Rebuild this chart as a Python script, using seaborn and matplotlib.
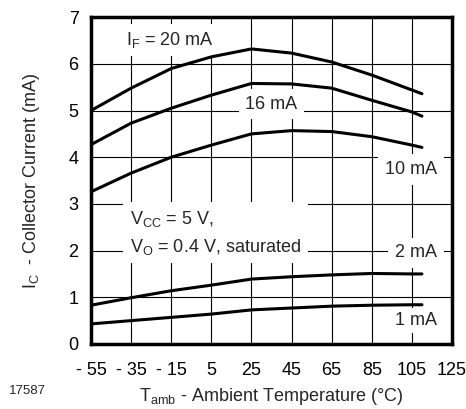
import matplotlib
matplotlib.use("Agg")
import matplotlib.pyplot as plt
import seaborn as sns
import pandas as pd

# Collector current vs ambient temperature for several forward currents
temps = [-55, -35, -15, 5, 25, 45, 65, 85, 105, 110]
ic_20ma = [5.00, 5.48, 5.90, 6.15, 6.32, 6.23, 6.04, 5.76, 5.44, 5.36]
ic_16ma = [4.27, 4.73, 5.05, 5.33, 5.58, 5.57, 5.48, 5.22, 4.97, 4.88]
ic_10ma = [3.26, 3.66, 4.00, 4.26, 4.50, 4.57, 4.55, 4.44, 4.26, 4.21]
ic_2ma = [0.83, 0.99, 1.14, 1.26, 1.39, 1.44, 1.48, 1.51, 1.50, 1.50]
ic_1ma = [0.43, 0.50, 0.57, 0.64, 0.73, 0.77, 0.81, 0.83, 0.84, 0.84]
series_names = ["20 mA", "16 mA", "10 mA", "2 mA", "1 mA"]

x_ticks = [-55, -35, -15, 5, 25, 45, 65, 85, 105, 125]
x_ticklabels = ["- 55", "- 35", "- 15", "5", "25", "45", "65", "85", "105", "125"]
y_ticks = [0, 1, 2, 3, 4, 5, 6, 7]

sns.set_style("white")
plt.rcParams["font.family"] = ["Liberation Sans", "DejaVu Sans"]
plt.rcParams["mathtext.fontset"] = "custom"
plt.rcParams["mathtext.rm"] = "Liberation Sans"
plt.rcParams["mathtext.it"] = "Liberation Sans"
plt.rcParams["mathtext.default"] = "regular"

FS = 13

rows = []
for name, vals in zip(series_names, [ic_20ma, ic_16ma, ic_10ma, ic_2ma, ic_1ma]):
    for t, v in zip(temps, vals):
        rows.append({"T": t, "IC": v, "IF": name})
df = pd.DataFrame(rows)

fig = plt.figure(figsize=(4.66, 4.09), dpi=100)
ax = fig.add_axes([0.1953, 0.159, 0.7747, 0.799])

sns.lineplot(data=df, x="T", y="IC", hue="IF", palette=["black"] * 5,
             legend=False, linewidth=2.2, ax=ax, zorder=4)

ax.set_xlim(-55, 125)
ax.set_ylim(0, 7)
ax.set_xticks(x_ticks)
ax.set_xticklabels(x_ticklabels)
ax.set_yticks(y_ticks)
ax.grid(True, color="black", linewidth=0.8, zorder=1)
ax.set_axisbelow(True)
for sp in ax.spines.values():
    sp.set_visible(True)
    sp.set_color("black")
    sp.set_linewidth(2.5)
ax.tick_params(axis="both", length=0, labelsize=FS, colors="black")
ax.tick_params(axis="x", pad=13)
ax.tick_params(axis="y", pad=9)

ax.set_xlabel(r"$T_{amb}$ - Ambient Temperature (°C)", fontsize=FS, labelpad=5)
ax.set_ylabel(r"$I_C$  - Collector Current (mA)", fontsize=FS, labelpad=19)

ax.text(-15.5, 6.51, r"$I_F$ = 20 mA", fontsize=FS, ha="center", va="center",
        bbox=dict(facecolor="white", edgecolor="none", pad=4), zorder=3)
ax.text(35, 5.14, "16 mA", fontsize=FS, ha="center", va="center",
        bbox=dict(facecolor="white", edgecolor="none", pad=5), zorder=3)
ax.text(104.5, 3.73, "10 mA", fontsize=FS, ha="center", va="center",
        bbox=dict(facecolor="white", edgecolor="none", pad=5), zorder=3)
ax.text(-35.5, 2.38, "$V_{CC}$ = 5 V,\n$V_O$ = 0.4 V, saturated", fontsize=FS,
        ha="left", va="center", linespacing=1.5,
        bbox=dict(facecolor="white", edgecolor="none", pad=5), zorder=3)
ax.text(107, 1.95, "2 mA", fontsize=FS, ha="center", va="center",
        bbox=dict(facecolor="white", edgecolor="none", pad=5), zorder=3)
ax.text(107, 0.51, "1 mA", fontsize=FS, ha="center", va="center",
        bbox=dict(facecolor="white", edgecolor="none", pad=3), zorder=3)

fig.text(0.02, 0.043, "17587", fontsize=9.5, ha="left", va="center")

fig.savefig("out.png", dpi=100)
